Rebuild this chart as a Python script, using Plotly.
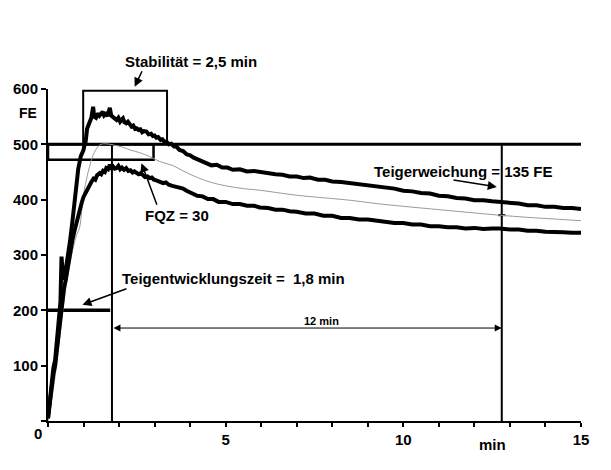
import plotly.graph_objects as go

# ---------------- data ----------------
# time in minutes, consistency in FE (farinograph units)
upper_t = [0.00, 0.05, 0.10, 0.15, 0.20, 0.25, 0.30, 0.35, 0.38, 0.40, 0.43, 0.48, 0.55, 0.62, 0.70,
           0.78, 0.85, 0.92, 1.00, 1.03, 1.06, 1.10, 1.13, 1.17, 1.22, 1.27, 1.30, 1.35, 1.41, 1.45,
           1.50, 1.54, 1.58, 1.63, 1.68, 1.74, 1.78, 1.83, 1.88, 1.93, 1.98, 2.03, 2.08, 2.11, 2.15,
           2.20, 2.25, 2.30, 2.35, 2.40, 2.45, 2.49, 2.55, 2.60, 2.65, 2.70, 2.77, 2.83, 2.90, 2.95,
           3.00, 3.05, 3.10, 3.17, 3.22, 3.28, 3.33, 3.40, 3.47, 3.55, 3.61, 3.70, 3.80, 3.90, 4.00,
           4.10, 4.20, 4.30, 4.46, 4.60, 4.75, 4.90, 5.05, 5.20, 5.40, 5.60, 5.80, 5.96, 6.20, 6.40,
           6.60, 6.80, 7.00, 7.20, 7.37, 7.60, 7.80, 8.00, 8.25, 8.50, 8.75, 9.00, 9.24, 9.50, 9.75,
           10.00, 10.25, 10.50, 10.75, 11.00, 11.25, 11.50, 11.75, 12.00, 12.25, 12.50, 12.70, 13.00,
           13.25, 13.50, 13.75, 14.00, 14.25, 14.50, 14.75, 15.00]
upper_fe = [5, 40, 70, 95, 110, 140, 175, 215, 297, 270, 255, 265, 290, 325, 368,
            420, 455, 478, 490, 500, 505, 528, 532, 540, 548, 568, 550, 548, 556, 552,
            557, 559, 552, 555, 551, 566, 552, 549, 547, 544, 548, 541, 545, 547, 540,
            538, 541, 535, 532, 534, 528, 529, 526, 527, 522, 524, 523, 518, 519, 515,
            516, 512, 513, 508, 509, 504, 505, 500, 501, 496, 496, 490, 488, 482, 480,
            476, 473, 470, 466, 462, 463, 458, 458, 454, 455, 451, 452, 450, 447, 446,
            445, 442, 442, 439, 440, 436, 436, 433, 432, 430, 428, 426, 424, 421, 420,
            416, 415, 412, 411, 407, 406, 403, 402, 399, 399, 397, 396, 394,
            393, 390, 390, 387, 387, 385, 385, 383]

lower_t = [0.00, 0.05, 0.10, 0.15, 0.20, 0.25, 0.30, 0.35, 0.40, 0.45, 0.50, 0.56, 0.62, 0.68, 0.75,
           0.82, 0.89, 0.95, 1.00, 1.05, 1.10, 1.17, 1.22, 1.28, 1.33, 1.38, 1.46, 1.50, 1.55, 1.60,
           1.64, 1.69, 1.74, 1.78, 1.83, 1.88, 1.93, 1.98, 2.03, 2.08, 2.14, 2.20, 2.26, 2.32, 2.38,
           2.43, 2.49, 2.55, 2.61, 2.67, 2.73, 2.80, 2.86, 2.92, 2.98, 3.05, 3.14, 3.24, 3.32, 3.40,
           3.50, 3.61, 3.70, 3.80, 3.90, 4.00, 4.08, 4.20, 4.35, 4.50, 4.65, 4.80, 5.00, 5.20, 5.40,
           5.60, 5.80, 5.96, 6.20, 6.40, 6.60, 6.80, 7.00, 7.25, 7.50, 7.75, 8.00, 8.25, 8.49, 8.75,
           9.00, 9.24, 9.50, 9.75, 10.00, 10.25, 10.50, 10.75, 11.00, 11.25, 11.50, 11.75, 12.00,
           12.25, 12.50, 12.70, 13.00, 13.25, 13.50, 13.75, 14.00, 14.25, 14.50, 14.75, 15.00]
lower_fe = [5, 35, 60, 85, 100, 130, 160, 195, 220, 240, 255, 280, 305, 325, 345,
            365, 381, 395, 405, 412, 418, 427, 432, 438, 436, 444, 448, 446, 452, 450,
            457, 455, 463, 458, 460, 456, 457, 461, 455, 458, 454, 457, 452, 453, 449,
            451, 448, 446, 448, 445, 441, 442, 439, 440, 436, 435, 432, 430, 431, 427,
            425, 423, 421, 420, 416, 413, 411, 407, 406, 401, 401, 396, 396, 392, 392,
            389, 389, 386, 385, 382, 382, 379, 378, 375, 375, 371, 371, 367, 367, 364,
            364, 362, 361, 358, 358, 355, 355, 352, 352, 350, 350, 348, 349,
            347, 348, 348, 346, 346, 344, 344, 342, 342, 341, 340, 340]

mean_t = [0.00, 0.20, 0.40, 0.55, 0.70, 0.80, 0.89, 0.99, 1.08, 1.17, 1.30, 1.46, 1.60, 1.83, 2.10,
          2.30, 2.58, 2.86, 3.14, 3.50, 3.80, 4.10, 4.55, 5.00, 5.50, 5.96, 7.00, 8.00, 8.49, 9.24,
          10.00, 11.00, 12.00, 12.70, 13.50, 14.25, 15.00]
mean_fe = [0, 80, 190, 260, 310, 335, 350, 405, 436, 460, 485, 499, 501, 499, 495,
           490, 485, 478, 469, 462, 452, 443, 432, 425, 420, 417, 408, 402, 399, 393,
           388, 382, 376, 372, 368, 365, 362]

x_ticks = list(range(0, 16))
x_labels = ["" if v % 5 or v == 0 else str(v) for v in x_ticks]
y_ticks = [0, 100, 200, 300, 400, 500, 600]
y_labels = ["", "100", "200", "300", "400", "500", "600"]

X_MAX, Y_MAX = 15, 600
dev_time = 1.8          # Teigentwicklungszeit
line_500 = 500
stab_start, stab_end, stab_top = 0.99, 3.35, 597
fqz_end, fqz_low = 2.97, 472
soft_time = 12.77
soft_mark = 372
dev_level = 200

FONT = "Liberation Sans"

fig = go.Figure()
fig.add_trace(go.Scatter(x=mean_t, y=mean_fe, mode="lines",
                         line=dict(color="#9a9a9a", width=1), line_shape="spline",
                         showlegend=False, hoverinfo="skip"))
fig.add_trace(go.Scatter(x=upper_t, y=upper_fe, mode="lines",
                         line=dict(color="black", width=4), showlegend=False))
fig.add_trace(go.Scatter(x=lower_t, y=lower_fe, mode="lines",
                         line=dict(color="black", width=4), showlegend=False))

shapes = [
    dict(type="line", x0=0, x1=X_MAX, y0=line_500, y1=line_500, line=dict(color="black", width=3)),
    dict(type="rect", x0=stab_start, x1=stab_end, y0=line_500, y1=stab_top, line=dict(color="black", width=2)),
    dict(type="rect", x0=0, x1=fqz_end, y0=fqz_low, y1=line_500, line=dict(color="black", width=2.5)),
    dict(type="line", x0=dev_time, x1=dev_time, y0=0, y1=line_500, line=dict(color="black", width=2)),
    dict(type="line", x0=0, x1=dev_time - 0.05, y0=dev_level, y1=dev_level, line=dict(color="black", width=3.5)),
    dict(type="line", x0=soft_time, x1=soft_time, y0=0, y1=line_500, line=dict(color="black", width=2)),
    dict(type="line", x0=soft_time - 0.1, x1=soft_time + 0.1, y0=soft_mark, y1=soft_mark, line=dict(color="black", width=2)),
]
for s in shapes:
    s.update(xref="x", yref="y", layer="below")

tf = dict(family=FONT, size=15, color="black", weight="bold")
big = dict(family=FONT, size=15, color="black", weight="bold")


def paper(xv, yv):
    return dict(x=xv / X_MAX, y=yv / Y_MAX, xref="paper", yref="paper")


ann = [
    dict(text="Stabilität = 2,5 min", showarrow=False, font=tf, **paper(4.02, 650)),
    dict(text="FE", showarrow=False, font=dict(family=FONT, size=14, color="black", weight="bold"),
         **paper(-0.57, 557)),
    dict(text="min", showarrow=False, font=big, **paper(12.52, -43)),
    dict(text="0", showarrow=False, font=big, **paper(-0.29, -23)),
    dict(text="", showarrow=True, ax=8, ay=-17, axref="pixel", ayref="pixel",
         arrowhead=2, arrowwidth=1.5, arrowsize=1.2, arrowcolor="black", **paper(2.44, 604)),
    dict(text="Teigentwicklungszeit =&nbsp; 1,8 min", x=5.21, y=258, showarrow=False, font=tf),
    dict(text="12 min", x=7.69, y=180, showarrow=False,
         font=dict(family=FONT, size=11, color="black", weight="bold")),
    dict(text="FQZ = 30", x=3.64, y=372, showarrow=False, font=tf),
    dict(text="Teigerweichung = 135 FE", x=11.70, y=451, showarrow=False, font=tf),
    dict(text="", x=0.97, y=210, ax=2.25, ay=240, axref="x", ayref="y", showarrow=True,
         arrowhead=2, arrowwidth=1.5, arrowsize=1.2, arrowcolor="black"),
    dict(text="", x=soft_time, y=168, ax=dev_time, ay=168, axref="x", ayref="y", showarrow=True,
         arrowhead=2, startarrowhead=2, arrowside="end+start", arrowwidth=1, arrowsize=1.4,
         startarrowsize=1.4, arrowcolor="black"),
    dict(text="", x=2.63, y=466, ax=3.08, ay=388, axref="x", ayref="y", showarrow=True,
         arrowhead=2, arrowwidth=1.5, arrowsize=1.2, arrowcolor="black"),
    dict(text="", x=12.63, y=423, ax=11.37, ay=436, axref="x", ayref="y", showarrow=True,
         arrowhead=2, arrowwidth=1.5, arrowsize=1.2, arrowcolor="black"),
]
for a in ann:
    a.setdefault("xref", "x")
    a.setdefault("yref", "y")
    a.setdefault("xanchor", "center")
    a.setdefault("yanchor", "middle")

fig.update_layout(
    width=611, height=470, autosize=False,
    margin=dict(l=40, r=38, t=81, b=57),
    paper_bgcolor="white", plot_bgcolor="white",
    shapes=shapes, annotations=ann, showlegend=False,
    font=dict(family=FONT, color="black"),
)
axis_common = dict(showline=True, linecolor="black", linewidth=2, ticks="outside",
                   tickcolor="black", tickwidth=1.5, showgrid=False, zeroline=False,
                   tickfont=big, automargin=False)
fig.update_xaxes(range=[0, X_MAX], tickmode="array", tickvals=x_ticks, ticktext=x_labels,
                 ticklen=4, **axis_common)
fig.update_yaxes(range=[0, Y_MAX], tickmode="array", tickvals=y_ticks, ticktext=y_labels,
                 ticklen=5, **axis_common)

fig.write_html("out.html")
